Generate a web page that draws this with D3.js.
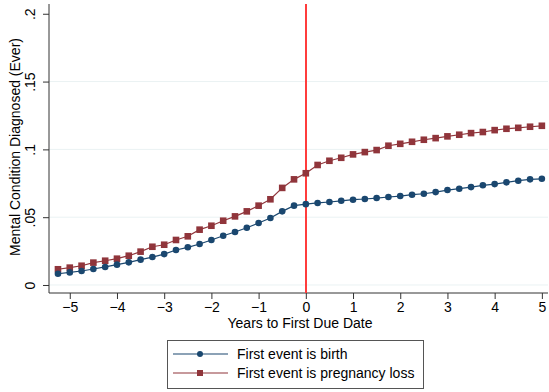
<!DOCTYPE html>
<html>
<head>
<meta charset="utf-8">
<script src="https://cdn.jsdelivr.net/npm/d3@7"></script>
<style>
  html, body { margin: 0; padding: 0; background: #fff; }
  svg { display: block; font-family: "Liberation Sans", Arial, sans-serif; }
</style>
</head>
<body>
<svg id="chart" width="549" height="392"></svg>
<script>
// Quarterly event time, in years relative to the first due date
const years = d3.range(-21, 21).map(q => q / 4);

// Share with a mental condition ever diagnosed
const birthValues = [
  0.0083, 0.0093, 0.0103, 0.0118, 0.0133, 0.0150, 0.0167, 0.0187, 0.0206, 0.0228,
  0.0258, 0.0278, 0.0302, 0.0332, 0.0363, 0.0391, 0.0422, 0.0457, 0.0494, 0.0543,
  0.0585, 0.0596, 0.0605, 0.0612, 0.0621, 0.0629, 0.0634, 0.0641, 0.0649, 0.0656,
  0.0666, 0.0673, 0.0685, 0.0700, 0.0710, 0.0722, 0.0735, 0.0744, 0.0757, 0.0769,
  0.0779, 0.0783
];
const lossValues = [
  0.0116, 0.0128, 0.0142, 0.0165, 0.0179, 0.0194, 0.0216, 0.0246, 0.0282, 0.0297,
  0.0332, 0.0359, 0.0408, 0.0437, 0.0474, 0.0506, 0.0543, 0.0585, 0.0632, 0.0716,
  0.0779, 0.0824, 0.0885, 0.0916, 0.0938, 0.0963, 0.0980, 0.0995, 0.1027, 0.1041,
  0.1056, 0.1071, 0.1083, 0.1096, 0.1108, 0.1120, 0.1128, 0.1142, 0.1152, 0.1159,
  0.1167, 0.1174
];

const xTicks = [-5, -4, -3, -2, -1, 0, 1, 2, 3, 4, 5];
const yTicks = [0, 0.05, 0.1, 0.15, 0.2];
const yTickLabels = ["0", ".05", ".1", ".15", ".2"];
const seriesNames = ["First event is birth", "First event is pregnancy loss"];

const navy = "#1a476f", maroon = "#90353b";
const fontSize = 14;

const svg = d3.select("#chart");
const plot = { left: 49, right: 548, top: 4, bottom: 293 };

const x = d3.scaleLinear().domain([-5.44, 5.13]).range([plot.left, plot.right]);
const y = d3.scaleLinear().domain([-0.0059, 0.2072]).range([plot.bottom, plot.top]);

// Horizontal grid
svg.append("g")
  .selectAll("line")
  .data(yTicks.filter(v => v < 0.2))
  .join("line")
  .attr("x1", plot.left).attr("x2", plot.right)
  .attr("y1", d => y(d)).attr("y2", d => y(d))
  .attr("stroke", "#eaf2f3").attr("stroke-width", 1);

// Y axis
const yAxis = svg.append("g")
  .attr("transform", `translate(${plot.left},0)`)
  .call(d3.axisLeft(y).tickValues(yTicks).tickSize(6).tickSizeOuter(0)
    .tickFormat((d, i) => yTickLabels[i]));
yAxis.select(".domain").attr("stroke", "#333").attr("d", `M0,${plot.top}V${plot.bottom}`);
yAxis.selectAll(".tick line").attr("stroke", "#333");
yAxis.selectAll(".tick text")
  .attr("font-size", fontSize).attr("fill", "#000")
  .attr("text-anchor", "middle")
  .attr("transform", "rotate(-90)")
  .attr("x", 0).attr("y", -14).attr("dy", 0);

// X axis
const xAxis = svg.append("g")
  .attr("transform", `translate(0,${plot.bottom})`)
  .call(d3.axisBottom(x).tickValues(xTicks).tickSize(6).tickSizeOuter(0)
    .tickFormat(d => d < 0 ? "\u2212" + Math.abs(d) : String(d)));
xAxis.select(".domain").attr("stroke", "#333").attr("d", `M${plot.left},0H${plot.right}`);
xAxis.selectAll(".tick line").attr("stroke", "#333");
xAxis.selectAll(".tick text").attr("font-size", fontSize).attr("fill", "#000").attr("y", 9);

// Axis titles
svg.append("text")
  .attr("x", 300).attr("y", 328)
  .attr("text-anchor", "middle").attr("font-size", fontSize)
  .text("Years to First Due Date");
svg.append("text")
  .attr("transform", "translate(20,147) rotate(-90)")
  .attr("text-anchor", "middle").attr("font-size", fontSize)
  .text("Mental Condition Diagnosed (Ever)");

// Reference line at the due date
const x0 = Math.round(x(0));
svg.append("line")
  .attr("x1", x0).attr("x2", x0)
  .attr("y1", plot.top).attr("y2", plot.bottom)
  .attr("stroke", "#ff3c3c").attr("stroke-width", 2);

const line = d3.line().x((d, i) => x(years[i])).y(d => y(d));

// Pregnancy loss series
svg.append("path").datum(lossValues)
  .attr("d", line).attr("fill", "none")
  .attr("stroke", maroon).attr("stroke-width", 1.2);
svg.append("g").selectAll("rect").data(lossValues).join("rect")
  .attr("x", (d, i) => x(years[i]) - 3.3).attr("y", d => y(d) - 3.3)
  .attr("width", 6.6).attr("height", 6.6).attr("fill", maroon);

// Birth series
svg.append("path").datum(birthValues)
  .attr("d", line).attr("fill", "none")
  .attr("stroke", navy).attr("stroke-width", 1.2);
svg.append("g").selectAll("circle").data(birthValues).join("circle")
  .attr("cx", (d, i) => x(years[i])).attr("cy", d => y(d))
  .attr("r", 3.3).attr("fill", navy);

// Legend
const lg = svg.append("g");
lg.append("rect")
  .attr("x", 167.5).attr("y", 340.5).attr("width", 256).attr("height", 48)
  .attr("fill", "#fff").attr("stroke", "#555").attr("stroke-width", 1);
const rows = [
  { name: seriesNames[0], color: navy, shape: "circle", cy: 354 },
  { name: seriesNames[1], color: maroon, shape: "square", cy: 373 }
];
rows.forEach(r => {
  lg.append("line")
    .attr("x1", 173).attr("x2", 228).attr("y1", r.cy).attr("y2", r.cy)
    .attr("stroke", r.color).attr("stroke-width", 1.2);
  if (r.shape === "circle") {
    lg.append("circle").attr("cx", 200).attr("cy", r.cy).attr("r", 3).attr("fill", r.color);
  } else {
    lg.append("rect").attr("x", 197).attr("y", r.cy - 3).attr("width", 6).attr("height", 6).attr("fill", r.color);
  }
  lg.append("text")
    .attr("x", 237).attr("y", r.cy + 5).attr("font-size", fontSize)
    .text(r.name);
});
</script>
</body>
</html>
